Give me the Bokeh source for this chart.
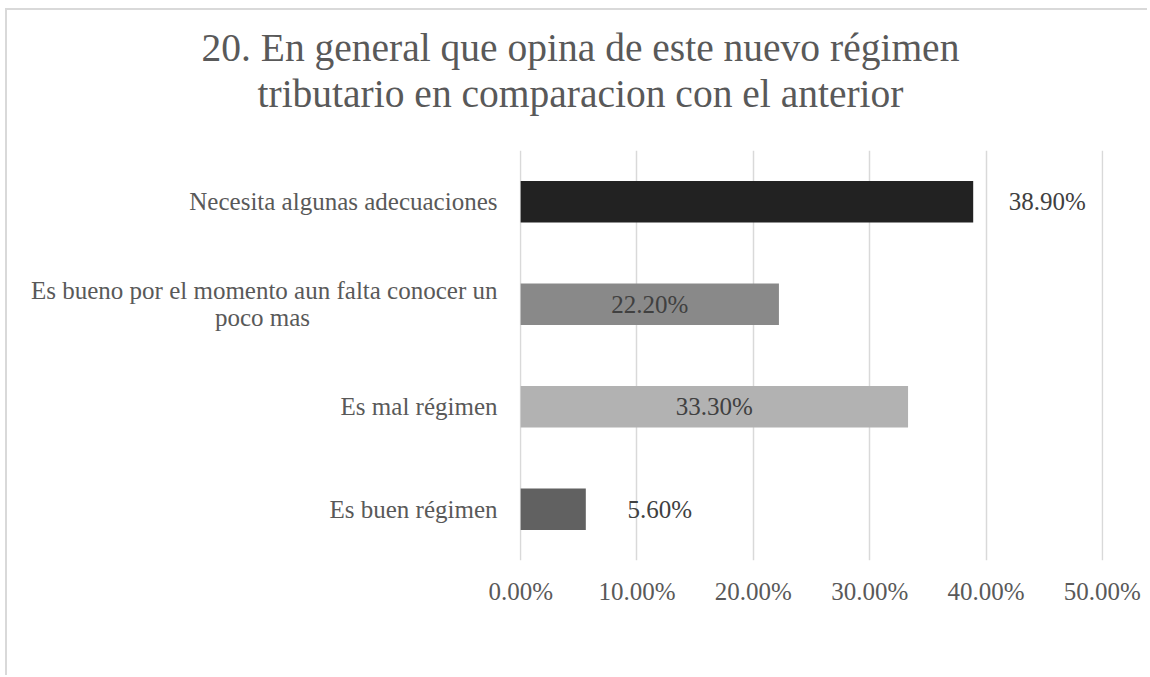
from bokeh.plotting import figure
from bokeh.models import (Range1d, Title, LabelSet, PrintfTickFormatter,
                          FixedTicker, ColumnDataSource)
from bokeh.embed import file_html
from bokeh.resources import INLINE

# ---- data ----
categories = [
    "Es buen régimen",
    "Es mal régimen",
    "Es bueno por el momento aun falta conocer un poco mas",
    "Necesita algunas adecuaciones",
]
category_lines = [
    ["Es buen régimen"],
    ["Es mal régimen"],
    ["Es bueno por el momento aun falta conocer un", "poco mas"],
    ["Necesita algunas adecuaciones"],
]
values = [5.6, 33.3, 22.2, 38.9]
bar_colors = ["#616161", "#b2b2b2", "#898989", "#222222"]
label_place = ["outside", "center", "center", "outside"]
x_ticks = [0, 10, 20, 30, 40, 50]
title_lines = [
    "20. En general que opina de este nuevo régimen",
    "tributario en comparacion con el anterior",
]

FONT = "Liberation Serif"
GREY = "#595959"
FRAME_H = 410
NBSP = "\u00a0"

n_cat = len(categories)
ypos = [i + 0.5 for i in range(n_cat)]  # one slot per category

p = figure(
    y_range=Range1d(0, n_cat),
    x_range=Range1d(-0.1, 50.1),
    frame_width=584, frame_height=FRAME_H,
    min_border_left=512, min_border_right=44,
    min_border_top=140, min_border_bottom=115,
    output_backend="svg", toolbar_location=None,
    background_fill_color="white", border_fill_color="white",
    outline_line_color=None,
)
p.styles = {
    "border-top": "2px solid #d9d9d9",
    "border-left": "2px solid #d9d9d9",
    "margin-left": "5px",
    "margin-top": "8px",
}

src = ColumnDataSource(dict(y=ypos, cat=categories, val=values, color=bar_colors))
p.hbar(y="y", left=0, right="val", height=0.405, fill_color="color",
       line_color=None, source=src)

# x axis
p.xaxis.ticker = FixedTicker(ticks=x_ticks)
p.xaxis.formatter = PrintfTickFormatter(format="%.2f%%")
p.xaxis.axis_line_color = None
p.xaxis.major_tick_line_color = None
p.xaxis.minor_tick_line_color = None
p.xaxis.major_tick_out = 0
p.xaxis.major_tick_in = 0
p.xaxis.major_label_text_font = FONT
p.xaxis.major_label_text_font_size = "25px"
p.xaxis.major_label_text_color = GREY
p.xaxis.major_label_standoff = 17

# y axis: category names, the long one wrapped onto two lines
px_per_cat = FRAME_H / n_cat
tick_pos, tick_text = [], []
for y0, ls in zip(ypos, category_lines):
    n = len(ls)
    for j, t in enumerate(ls):
        dy = ((n - 1) / 2 - j) * 27 / px_per_cat
        if j > 0:  # centre continuation line under the first line
            t = t + NBSP * 30
        tick_pos.append(round(y0 + dy, 4))
        tick_text.append(t)
p.yaxis.ticker = FixedTicker(ticks=tick_pos, minor_ticks=[])
p.yaxis.major_label_overrides = dict(zip(tick_pos, tick_text))
p.yaxis.axis_line_color = None
p.yaxis.major_tick_line_color = None
p.yaxis.minor_tick_line_color = None
p.yaxis.major_tick_out = 0
p.yaxis.major_tick_in = 0
p.yaxis.minor_tick_out = 0
p.yaxis.major_label_standoff = 22
p.yaxis.major_label_text_font = FONT
p.yaxis.major_label_text_font_size = "25px"
p.yaxis.major_label_text_color = GREY

p.xgrid.ticker = FixedTicker(ticks=x_ticks)
p.xgrid.grid_line_color = "#d9d9d9"
p.xgrid.grid_line_width = 1.5
p.ygrid.grid_line_color = None

# data labels
lab_x = [v / 2 if pl == "center" else v for v, pl in zip(values, label_place)]
lab_off = [0 if pl == "center" else 74 for pl in label_place]
src_lab = ColumnDataSource(dict(
    y=ypos, x=lab_x, off=lab_off, text=[f"{v:.2f}%" for v in values]))
p.add_layout(LabelSet(
    x="x", y="y", text="text", source=src_lab, x_offset="off",
    text_align="center", text_baseline="middle",
    text_font=FONT, text_font_size="25px", text_color="#404040"))

# title: spacer first, then the two lines (outermost added last)
p.add_layout(Title(text=" ", text_font_size="1px", standoff=32), "above")
for line, off in zip(reversed(title_lines), [-262, -318]):
    p.add_layout(Title(
        text=line, align="left", offset=off, standoff=0,
        text_font=FONT, text_font_size="39.5px", text_color=GREY,
        text_font_style="normal",
    ), "above")

open("out.html", "w").write(file_html(p, INLINE))
